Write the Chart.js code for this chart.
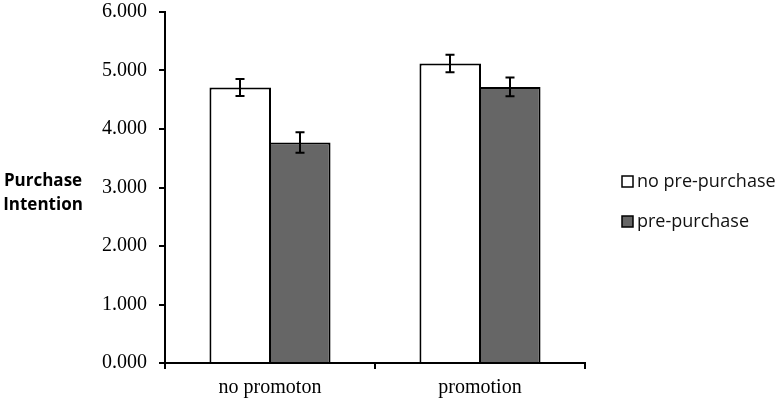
<!DOCTYPE html>
<html>
<head>
<meta charset="utf-8">
<script src="https://cdn.jsdelivr.net/npm/chart.js@4/dist/chart.umd.min.js"></script>
<style>
  html, body { margin: 0; padding: 0; background: #fff; }
  #wrap { width: 778px; height: 401px; position: relative; }
</style>
</head>
<body>
<div id="wrap"><canvas id="chart"></canvas></div>
<script>
const categories = ["no promoton", "promotion"];
const seriesNames = ["no pre-purchase", "pre-purchase"];
const noPrePurchase = [4.71, 5.12];
const prePurchase = [3.77, 4.72];
const noPrePurchaseErr = [0.145, 0.15];
const prePurchaseErr = [0.175, 0.16];
const yTicks = [0, 1, 2, 3, 4, 5, 6];
const yTitle = ["Purchase", "Intention"];

// error bars drawn on top of each bar
const errorBars = {
  id: "errorBars",
  afterDatasetsDraw(chart) {
    const ctx = chart.ctx;
    const y = chart.scales.y;
    ctx.save();
    ctx.strokeStyle = "#000";
    ctx.lineWidth = 2;
    chart.data.datasets.forEach((ds, i) => {
      const meta = chart.getDatasetMeta(i);
      meta.data.forEach((bar, j) => {
        const v = ds.data[j], e = ds.err[j];
        const top = y.getPixelForValue(v + e);
        const bot = y.getPixelForValue(v - e);
        const x = Math.round(bar.x);
        ctx.beginPath();
        ctx.moveTo(x, top); ctx.lineTo(x, bot);
        ctx.moveTo(x - 4.5, top); ctx.lineTo(x + 4.5, top);
        ctx.moveTo(x - 4.5, bot); ctx.lineTo(x + 4.5, bot);
        ctx.stroke();
      });
    });
    ctx.restore();
  }
};

// horizontal y title + legend on the right
const sideText = {
  id: "sideText",
  afterDraw(chart) {
    const ctx = chart.ctx;
    ctx.save();
    ctx.fillStyle = "#000";
    ctx.font = "bold 17px 'Open Sans'";
    ctx.textAlign = "center";
    ctx.textBaseline = "middle";
    ctx.fillText(yTitle[0], 43, 181);
    ctx.fillText(yTitle[1], 43, 205);

    ctx.font = "18px 'Open Sans'";
    ctx.textAlign = "left";
    chart.data.datasets.forEach((ds, i) => {
      const cy = 182 + i * 40;
      ctx.fillStyle = ds.backgroundColor;
      ctx.fillRect(622, cy - 6, 11, 11);
      ctx.strokeStyle = "#000";
      ctx.lineWidth = 1.5;
      ctx.strokeRect(622, cy - 6, 11, 11);
      ctx.fillStyle = "#111";
      ctx.fillText(ds.label, 637, cy);
    });
    ctx.restore();
  }
};

new Chart(document.getElementById("chart"), {
  type: "bar",
  data: {
    labels: categories,
    datasets: [
      { label: seriesNames[0], data: noPrePurchase, err: noPrePurchaseErr,
        backgroundColor: "#ffffff", borderColor: "#000", borderWidth: 2 },
      { label: seriesNames[1], data: prePurchase, err: prePurchaseErr,
        backgroundColor: "#666666", borderColor: "#000", borderWidth: 2 }
    ]
  },
  options: {
    responsive: true,
    maintainAspectRatio: false,
    animation: false,
    layout: { padding: { left: 90, right: 193, top: 12, bottom: 0 } },
    // slight overlap so neighbouring bars share one border line
    datasets: { bar: { barPercentage: 1.034, categoryPercentage: 0.567 } },
    plugins: { legend: { display: false }, tooltip: { enabled: false } },
    scales: {
      x: {
        afterFit(s) { s.height = 38; },
        grid: { drawOnChartArea: false, offset: true, tickLength: 6, color: "#000", lineWidth: 2 },
        border: { color: "#000", width: 2 },
        ticks: { color: "#000", padding: 7, font: { family: "'Liberation Serif'", size: 20 } }
      },
      y: {
        min: 0, max: 6,
        afterFit(s) { s.width = 75; s.paddingTop = 0; s.paddingBottom = 0; },
        afterBuildTicks(s) { s.ticks = yTicks.map(v => ({ value: v })); },
        grid: { drawOnChartArea: false, tickLength: 6, color: "#000", lineWidth: 2 },
        border: { color: "#000", width: 2 },
        ticks: {
          color: "#000", padding: 12,
          font: { family: "'Liberation Serif'", size: 20 },
          callback: v => v.toFixed(3)
        }
      }
    }
  },
  plugins: [errorBars, sideText]
});
</script>
</body>
</html>
